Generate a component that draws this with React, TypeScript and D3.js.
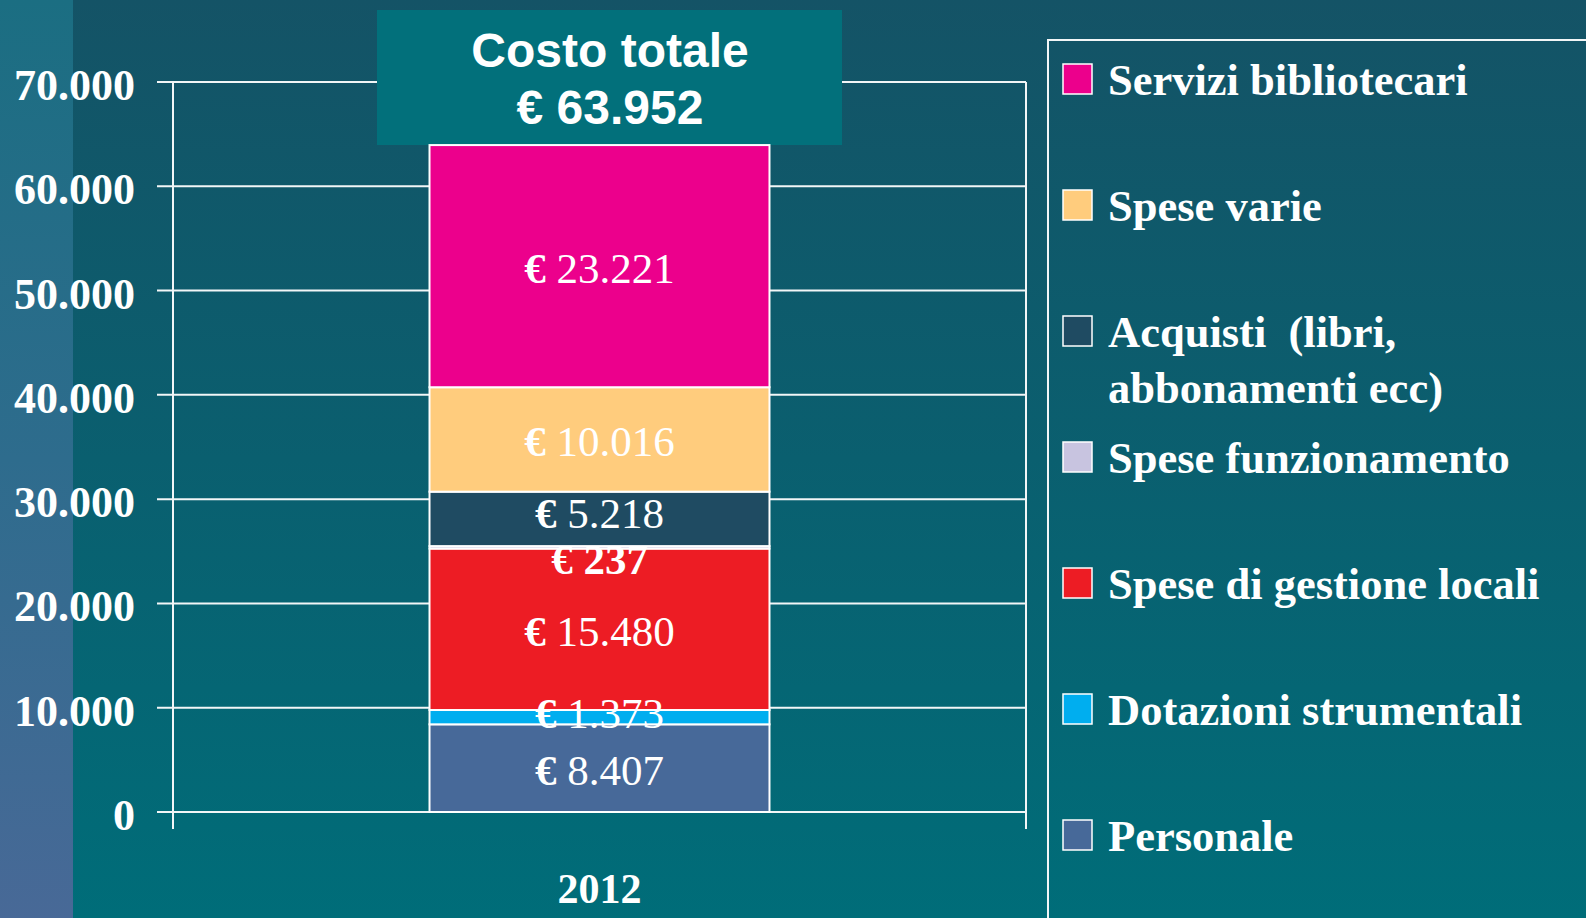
import React from "react";
import * as d3 from "d3";

const categories = ["2012"];
const seriesNames = [
  "Personale",
  "Dotazioni strumentali",
  "Spese di gestione locali",
  "Spese funzionamento",
  "Acquisti  (libri, abbonamenti ecc)",
  "Spese varie",
  "Servizi bibliotecari",
];
const seriesValues = [8407, 1373, 15480, 237, 5218, 10016, 23221];
const seriesLabels = ["8.407", "1.373", "15.480", "237", "5.218", "10.016", "23.221"];
const labelBold = [false, false, false, true, false, false, false];
const labelNudge = [0, -6, 0, 10, -8, 0, 0];
const seriesColors = ["#476999", "#00aeef", "#ed1c24", "#c8c4e0", "#1f4b62", "#ffcc7d", "#ec008c"];
const yTicks = [0, 10000, 20000, 30000, 40000, 50000, 60000, 70000];
const yTickLabels = ["0", "10.000", "20.000", "30.000", "40.000", "50.000", "60.000", "70.000"];
const totalTitle = "Costo totale";
const totalValue = "€ 63.952";
const legendOrder = [6, 5, 4, 3, 2, 1, 0];
const legendLines = [
  ["Servizi bibliotecari"],
  ["Spese varie"],
  ["Acquisti  (libri,", "abbonamenti ecc)"],
  ["Spese funzionamento"],
  ["Spese di gestione locali"],
  ["Dotazioni strumentali"],
  ["Personale"],
];

const W = 1586;
const H = 918;
const serif = "'Liberation Serif', 'Times New Roman', serif";
const sans = "'Liberation Sans', Arial, sans-serif";

export default function App() {
  const y = d3.scaleLinear().domain([0, 70000]).range([812, 82]);
  const x = d3.scaleBand().domain(categories).range([173, 1026]).paddingInner(0).paddingOuter(0.7545);
  const bw = x.bandwidth();

  const stackData = [
    Object.fromEntries([["cat", categories[0]], ...seriesNames.map((n, i) => [n, seriesValues[i]])]),
  ];
  const stack = d3.stack<any>().keys(seriesNames)(stackData as any);
  const cx = (x(categories[0]) as number) + bw / 2;

  const legendY = d3.scaleLinear().domain([0, 1]).range([95, 221]);
  const whiteLine = "#f2f6f7";

  return (
    <svg
      width={W}
      height={H}
      style={{ position: "fixed", left: 0, top: 0, display: "block" }}
    >
      <defs>
        <linearGradient id="bg" x1="0" y1="0" x2="0" y2="1">
          <stop offset="0" stopColor="#145366" />
          <stop offset="0.5" stopColor="#0a5f6f" />
          <stop offset="1" stopColor="#006d79" />
        </linearGradient>
        <linearGradient id="strip" x1="0" y1="0" x2="0" y2="1">
          <stop offset="0" stopColor="#1b6e82" />
          <stop offset="0.5" stopColor="#2e6c8d" />
          <stop offset="1" stopColor="#486997" />
        </linearGradient>
      </defs>
      <rect x={0} y={0} width={W} height={H} fill="url(#bg)" />
      <rect x={0} y={0} width={73} height={H} fill="url(#strip)" />

      {/* gridlines + ticks */}
      {yTicks.map((t, i) => (
        <g key={t}>
          <line x1={157} x2={1026} y1={y(t)} y2={y(t)} stroke={whiteLine} strokeWidth={2} />
          <text
            x={135}
            y={y(t) + 18}
            textAnchor="end"
            fontFamily={serif}
            fontWeight="bold"
            fontSize={44}
            fill="#ffffff"
          >
            {yTickLabels[i]}
          </text>
        </g>
      ))}
      <line x1={173} x2={173} y1={y(70000)} y2={829} stroke={whiteLine} strokeWidth={2} />
      <line x1={1026} x2={1026} y1={y(70000)} y2={829} stroke={whiteLine} strokeWidth={2} />

      {/* title box */}
      <rect x={377} y={10} width={465} height={135} fill="#02707b" />
      <text x={610} y={67} textAnchor="middle" fontFamily={sans} fontWeight="bold" fontSize={48} fill="#fff">
        {totalTitle}
      </text>
      <text x={610} y={124} textAnchor="middle" fontFamily={sans} fontWeight="bold" fontSize={48} fill="#fff">
        {totalValue}
      </text>

      {/* bars */}
      {stack.map((s, i) =>
        s.map((d, j) => (
          <rect
            key={i + "-" + j}
            x={x(categories[j]) as number}
            y={y(d[1])}
            width={bw}
            height={y(d[0]) - y(d[1])}
            fill={seriesColors[i]}
            stroke="#ffffff"
            strokeWidth={2}
          />
        ))
      )}
      {stack.map((s, i) =>
        s.map((d, j) => (
          <text
            key={"l" + i + "-" + j}
            x={cx}
            y={y((d[0] + d[1]) / 2) + 17 + labelNudge[i]}
            textAnchor="middle"
            fontFamily={serif}
            fontWeight={labelBold[i] ? "bold" : "normal"}
            fontSize={43}
            fill="#ffffff"
            style={{ whiteSpace: "pre" }}
          >
            <tspan fontWeight="bold">€</tspan>
            {" " + seriesLabels[i]}
          </text>
        ))
      )}

      {/* category label */}
      {categories.map((c) => (
        <text
          key={c}
          x={(x(c) as number) + bw / 2}
          y={903}
          textAnchor="middle"
          fontFamily={serif}
          fontWeight="bold"
          fontSize={42}
          fill="#ffffff"
        >
          {c}
        </text>
      ))}

      {/* legend */}
      <rect x={1048} y={40} width={600} height={950} fill="none" stroke={whiteLine} strokeWidth={2} />
      {legendOrder.map((si, k) => {
        const base = legendY(k);
        return (
          <g key={si}>
            <rect
              x={1063}
              y={base - 31}
              width={29}
              height={30}
              fill={seriesColors[si]}
              stroke="#ffffff"
              strokeWidth={1.5}
            />
            {legendLines[k].map((ln, li) => (
              <text
                key={li}
                x={1108}
                y={base + li * 56}
                fontFamily={serif}
                fontWeight="bold"
                fontSize={44.5}
                fill="#ffffff"
                style={{ whiteSpace: "pre" }}
              >
                {ln}
              </text>
            ))}
          </g>
        );
      })}
    </svg>
  );
}
